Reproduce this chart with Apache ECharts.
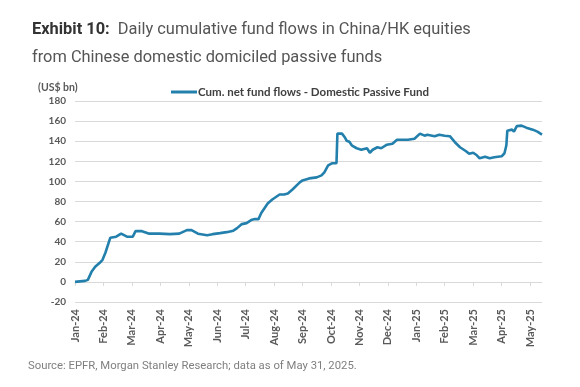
<!DOCTYPE html>
<html>
<head>
<meta charset="utf-8">
<script src="https://cdn.jsdelivr.net/npm/echarts@6/dist/echarts.min.js"></script>
<style>
html,body{margin:0;padding:0;background:#fff;}
#c{width:580px;height:387px;}
</style>
</head>
<body>
<div id="c"></div>
<script>
// ---- data ----
const monthLabels = ['Jan-24','Feb-24','Mar-24','Apr-24','May-24','Jun-24','Jul-24','Aug-24','Sep-24','Oct-24','Nov-24','Dec-24','Jan-25','Feb-25','Mar-25','Apr-25','May-25'];
const yTicks = [-20, 0, 20, 40, 60, 80, 100, 120, 140, 160, 180];
const dates = [
 '2024-01-01','2024-01-12','2024-01-15','2024-01-19','2024-01-23','2024-01-28','2024-01-31',
 '2024-02-03','2024-02-04','2024-02-08','2024-02-14','2024-02-19','2024-02-25',
 '2024-03-02','2024-03-03','2024-03-05','2024-03-12','2024-03-20','2024-03-31',
 '2024-04-11','2024-04-21','2024-04-29','2024-05-04','2024-05-11','2024-05-21','2024-05-27',
 '2024-06-04','2024-06-11','2024-06-18','2024-06-22','2024-06-27',
 '2024-07-02','2024-07-07','2024-07-11','2024-07-15','2024-07-18','2024-07-25','2024-07-30',
 '2024-08-07','2024-08-12','2024-08-16','2024-08-21','2024-08-29',
 '2024-09-01','2024-09-08','2024-09-16','2024-09-21','2024-09-24','2024-09-28',
 '2024-10-02','2024-10-07','2024-10-08','2024-10-13','2024-10-16','2024-10-18','2024-10-21','2024-10-24','2024-10-29',
 '2024-11-03','2024-11-09','2024-11-12','2024-11-15','2024-11-20','2024-11-24','2024-11-30',
 '2024-12-06','2024-12-11','2024-12-16','2024-12-23','2024-12-30',
 '2025-01-05','2025-01-10','2025-01-13','2025-01-21','2025-01-26',
 '2025-02-01','2025-02-06','2025-02-11','2025-02-16','2025-02-22','2025-02-25',
 '2025-03-01','2025-03-05','2025-03-08','2025-03-14','2025-03-19','2025-03-24',
 '2025-04-01','2025-04-04','2025-04-06','2025-04-07','2025-04-12','2025-04-14','2025-04-17','2025-04-22','2025-04-27',
 '2025-05-04','2025-05-09','2025-05-14'
];
const flows = [
 0, 1, 2, 10, 15, 19, 22,
 29, 30, 44, 45, 48, 45,
 45, 44, 50.5, 50.5, 48, 48,
 47.5, 48, 51.5, 51.5, 48, 46.5, 47.5,
 48.5, 49.5, 51, 53.5, 57.5,
 58.5, 61.5, 62.5, 62.5, 68.5, 78, 82,
 87, 87, 88, 92, 99,
 101, 103, 104, 106, 109, 116,
 118, 118, 147.5, 147.5, 144, 140.5, 139.5, 135.5, 133,
 131.5, 133, 128.5, 131.5, 134, 133, 136.5,
 137.5, 141.5, 141.5, 141.5, 142.5,
 147.5, 145.5, 146.5, 145, 146.5,
 145.5, 145, 139, 134, 130, 127.5,
 128.5, 126, 123, 124.5, 123, 124,
 125, 128, 136, 150.5, 151.5, 149.5, 155, 155.5, 153.5,
 151.5, 149.5, 146.5
];

// month-index position of a date (month starts are integer ticks)
function toX(s){
  const y = +s.slice(0,4), m = +s.slice(5,7), d = +s.slice(8,10);
  const dim = new Date(y, m, 0).getDate();
  return (y - 2024) * 12 + (m - 1) + (d - 1) / dim;
}
const seriesData = dates.map((d, i) => [toX(d), flows[i]]);
const xMax = toX(dates[dates.length - 1]);
const monthTicks = monthLabels.map((_, i) => i);

const chart = echarts.init(document.getElementById('c'), null, {renderer: 'canvas'});
const grey = '#595959';
chart.setOption({
  animation: false,
  backgroundColor: '#fff',
  title: {
    left: 27, top: 11,
    text: '{b|Exhibit 10:}{r|  Daily cumulative fund flows in China/HK equities}\n{r|from Chinese domestic domiciled passive funds}',
    textStyle: {
      lineHeight: 28,
      rich: {
        b: {fontFamily: 'Roboto', fontSize: 16.4, fontWeight: 'bold', color: '#333333', lineHeight: 28},
        r: {fontFamily: 'Roboto', fontSize: 16.4, fontWeight: 'normal', color: '#555555', lineHeight: 28}
      }
    }
  },
  graphic: [
    {type: 'text', left: 38, top: 82, style: {text: '(US$ bn)', font: 'bold 10.5px Lato', fill: grey}},
    {type: 'text', left: 28, top: 361, style: {text: 'Source: EPFR, Morgan Stanley Research; data as of May 31, 2025.', font: '11.3px Roboto', fill: '#7f7f7f'}}
  ],
  legend: {
    left: 166, top: 81,
    icon: 'rect', itemWidth: 26, itemHeight: 3, itemGap: 0,
    textStyle: {fontFamily: 'Lato', fontWeight: 'bold', fontSize: 11.5, color: '#404040', padding: [0,0,0,-4]},
    data: ['Cum. net fund flows - Domestic Passive Fund']
  },
  grid: {left: 75, right: 38, top: 101, bottom: 85, containLabel: false},
  xAxis: [
    {
      type: 'value', min: 0, max: xMax, interval: 1, position: 'bottom',
      axisLine: {show: true, onZero: true, lineStyle: {color: '#d9d9d9', width: 1}},
      axisTick: {show: true, length: 4, customValues: monthTicks, lineStyle: {color: '#d9d9d9'}},
      axisLabel: {show: false},
      splitLine: {show: false}
    },
    {
      type: 'value', min: 0, max: xMax, interval: 1, position: 'bottom',
      axisLine: {show: false, onZero: false},
      axisTick: {show: false},
      axisLabel: {
        show: true, rotate: 90, margin: 7, customValues: monthTicks,
        fontFamily: 'Lato', fontWeight: 'bold', fontSize: 11, color: grey,
        formatter: v => monthLabels[Math.round(v)] || ''
      },
      splitLine: {show: false}
    }
  ],
  yAxis: {
    type: 'value', min: -20, max: 180, interval: 20,
    axisLine: {show: false}, axisTick: {show: false},
    axisLabel: {margin: 9, fontFamily: 'Lato', fontWeight: 'bold', fontSize: 10, color: grey,
      customValues: yTicks},
    splitLine: {show: true, lineStyle: {color: '#d9d9d9', width: 1}}
  },
  series: [{
    name: 'Cum. net fund flows - Domestic Passive Fund',
    type: 'line', xAxisIndex: 0, showSymbol: false, symbol: 'none',
    data: seriesData,
    lineStyle: {color: '#2380ad', width: 2.6},
    itemStyle: {color: '#2380ad'}
  }]
});
</script>
</body>
</html>
